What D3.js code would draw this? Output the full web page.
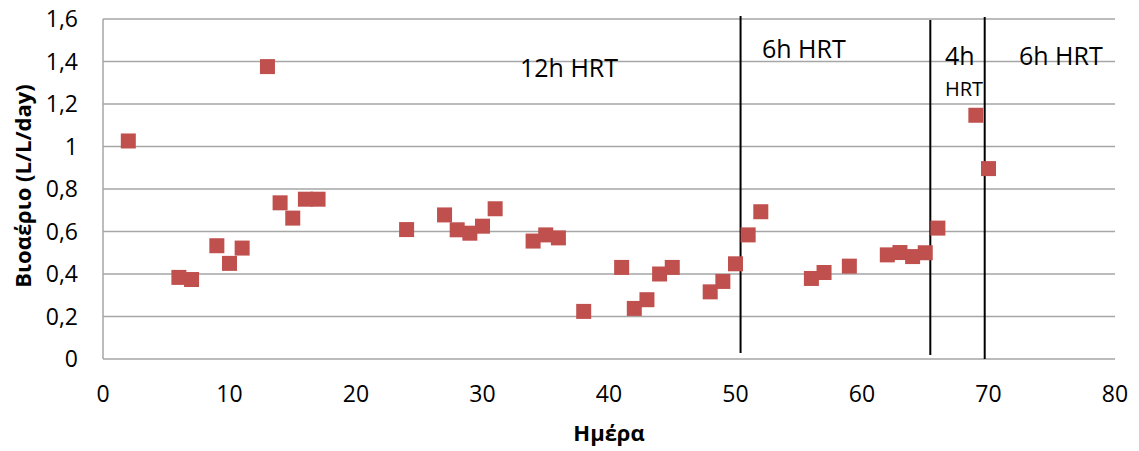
<!DOCTYPE html>
<html>
<head>
<meta charset="utf-8">
<script src="https://cdn.jsdelivr.net/npm/d3@7"></script>
<style>
  body { margin: 0; background: #fff; }
  text { font-family: "Open Sans", "Noto Sans", sans-serif; fill: #000; }
</style>
</head>
<body>
<script>
const width = 1139;
const height = 451;

// data
const days = [2, 6, 7, 9, 10, 11, 13, 14, 15, 16, 17, 24, 27, 28, 29, 30, 31, 34, 35, 36,
  38, 41, 42, 43, 44, 45, 48, 49, 50, 51, 52, 56, 57, 59, 62, 63, 64, 65, 66, 69, 70];
const biogas = [1.026, 0.384, 0.374, 0.533, 0.45, 0.522, 1.376, 0.735, 0.663, 0.752, 0.752,
  0.609, 0.678, 0.608, 0.592, 0.625, 0.707, 0.555, 0.584, 0.57,
  0.224, 0.431, 0.238, 0.279, 0.40, 0.431, 0.316, 0.365, 0.448, 0.584, 0.693,
  0.379, 0.407, 0.437, 0.49, 0.501, 0.482, 0.50, 0.616, 1.147, 0.896];
const phaseLines = [50.4, 65.4, 69.7];
const yTicks = [0, 0.2, 0.4, 0.6, 0.8, 1, 1.2, 1.4, 1.6];
const xTicks = [0, 10, 20, 30, 40, 50, 60, 70, 80];

const margin = { left: 103, right: 24, top: 19, bottom: 92 };

const svg = d3.select("body")
  .append("svg")
  .attr("width", width)
  .attr("height", height);

const x = d3.scaleLinear().domain([0, 80]).range([margin.left, width - margin.right]);
const y = d3.scaleLinear().domain([0, 1.6]).range([height - margin.bottom, margin.top]);

const fmt = d => String(d).replace(".", ",");

// gridlines
svg.selectAll(".grid")
  .data(yTicks)
  .enter()
  .append("line")
  .attr("x1", x(0))
  .attr("x2", x(80))
  .attr("y1", d => y(d))
  .attr("y2", d => y(d))
  .attr("stroke", "#a6a6a6")
  .attr("stroke-width", 1.5);

// left axis line
svg.append("line")
  .attr("x1", x(0)).attr("x2", x(0))
  .attr("y1", y(0)).attr("y2", y(1.6))
  .attr("stroke", "#a6a6a6")
  .attr("stroke-width", 1.5);

// y tick labels
svg.selectAll(".ylab")
  .data(yTicks)
  .enter()
  .append("text")
  .attr("x", 78)
  .attr("y", d => y(d))
  .attr("dy", "0.36em")
  .attr("text-anchor", "end")
  .style("font-size", "23px")
  .text(fmt);

// x tick labels
svg.selectAll(".xlab")
  .data(xTicks)
  .enter()
  .append("text")
  .attr("x", d => x(d))
  .attr("y", 394)
  .attr("dy", "0.36em")
  .attr("text-anchor", "middle")
  .style("font-size", "23px")
  .text(d => d);

// axis titles
svg.append("text")
  .attr("x", 609)
  .attr("y", 441)
  .attr("text-anchor", "middle")
  .style("font-size", "22px")
  .style("font-weight", "bold")
  .text("Ημέρα");

svg.append("text")
  .attr("transform", "translate(31,186) rotate(-90)")
  .attr("text-anchor", "middle")
  .style("font-size", "22px")
  .style("font-weight", "bold")
  .text("Βιοαέριο (L/L/day)");

// phase separators
svg.selectAll(".phase")
  .data(phaseLines)
  .enter()
  .append("line")
  .attr("x1", d => x(d))
  .attr("x2", d => x(d))
  .attr("y1", (d, i) => [16, 20, 17][i])
  .attr("y2", (d, i) => [353, 355, 359][i])
  .attr("stroke", "#000")
  .attr("stroke-width", 2);

// points
svg.selectAll(".pt")
  .data(days.map((d, i) => ({ day: d, v: biogas[i] })))
  .enter()
  .append("rect")
  .attr("x", d => x(d.day) - 7.5)
  .attr("y", d => y(d.v) - 7.5)
  .attr("width", 15)
  .attr("height", 15)
  .attr("fill", "#c0504d");

// phase labels
const labels = [
  { t: "12h HRT", x: 520, y: 77, size: 25 },
  { t: "6h HRT", x: 762, y: 58, size: 25 },
  { t: "4h", x: 945, y: 65, size: 25 },
  { t: "HRT", x: 945, y: 96, size: 20 },
  { t: "6h HRT", x: 1019, y: 65, size: 25 }
];
svg.selectAll(".plab")
  .data(labels)
  .enter()
  .append("text")
  .attr("x", d => d.x)
  .attr("y", d => d.y)
  .style("font-size", d => d.size + "px")
  .text(d => d.t);
</script>
</body>
</html>
